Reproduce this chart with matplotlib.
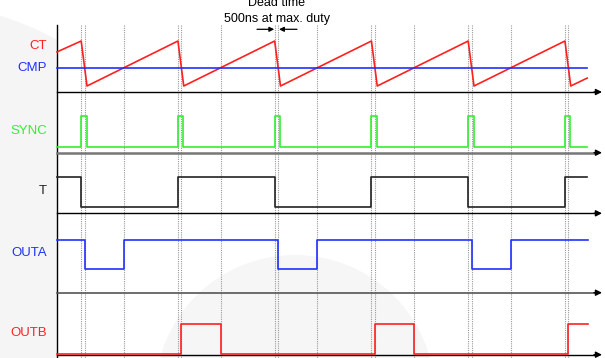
import matplotlib
matplotlib.use("Agg")
import matplotlib.pyplot as plt
from matplotlib.patches import Ellipse, Rectangle

plt.rcParams["font.family"] = ["Liberation Sans", "DejaVu Sans"]

# ---- data (time in switching cycles) ----
peaks = [0.25, 1.25, 2.25, 3.25, 4.25, 5.25]
cmp_cross = [0.69, 1.69, 2.69, 3.69, 4.69]
dead = 0.035

ct_t = [0.0, 0.25, 0.31, 1.25, 1.31, 2.25, 2.31, 3.25, 3.31, 4.25, 4.31, 5.25, 5.31, 5.48]
ct_v = [2.49, 3.0, 0.9, 3.0, 0.9, 3.0, 0.9, 3.0, 0.9, 3.0, 0.9, 3.0, 0.9, 1.27]
cmp_v = 1.74

sync_t = [0.0, 0.25, 0.305, 1.25, 1.305, 2.25, 2.305, 3.25, 3.305, 4.25, 4.305, 5.25, 5.305, 5.48]
sync_lvl = [0, 1, 0, 1, 0, 1, 0, 1, 0, 1, 0, 1, 0, 0]

t_t = [0.0, 0.25, 1.25, 2.25, 3.25, 4.25, 5.25, 5.48]
t_lvl = [1, 0, 1, 0, 1, 0, 1, 1]

outa_t = [0.0, 0.285, 0.69, 2.285, 2.69, 4.285, 4.69, 5.49]
outa_lvl = [1, 0, 1, 0, 1, 0, 1, 1]

outb_t = [0.0, 1.285, 1.69, 3.285, 3.69, 5.285, 5.49]
outb_lvl = [0, 1, 0, 1, 0, 1, 1]

# ---- layout (y in pixels from top) ----
PX = 96.75          # pixels per cycle
X0 = 57             # y-axis position in pixels
W, H = 605, 358


def tx(px):
    return (px - X0) / PX


def ct_y(v):
    return 86 - (v - 0.9) * 45 / 2.1


def dig_y(lvl, low, high):
    return [high if l else low for l in lvl]


fig = plt.figure(figsize=(W / 100, H / 100), dpi=100, facecolor="white")
ax = fig.add_axes([0, 0, 1, 1])
ax.set_xlim(tx(0), tx(W))
ax.set_ylim(H, 0)
ax.axis("off")

# faint background watermark
ax.add_patch(Ellipse((tx(-100), 330), 2 * 330 / PX, 2 * 330, color="#f5f5f5", lw=0, zorder=0))
ax.add_patch(Rectangle((0, 0), tx(W), H, color="white", lw=0, zorder=0.5))
ax.add_patch(Ellipse((tx(295), 395), 2 * 140 / PX, 2 * 140, color="#f6f6f6", lw=0, zorder=0.6))

# timing guide lines
guides = []
for p in peaks:
    guides += [p, p + dead]
guides += cmp_cross
for g in guides:
    ax.plot([g, g], [25, H], color="#999999", lw=0.8, ls=(0, (1, 1)), zorder=1)

# vertical axis
ax.plot([0, 0], [25, H], color="black", lw=1.0, zorder=3)

# time axes with arrows
axes_rows = [(92, "black", 1.0), (152.7, "#777777", 1.8), (213.3, "black", 1.0),
             (292.7, "#555555", 1.2), (354.7, "black", 1.0)]
for y, c, lw in axes_rows:
    ax.plot([0, tx(596)], [y, y], color=c, lw=lw, zorder=3)
    ax.annotate("", xy=(tx(602), y), xytext=(tx(594), y),
                arrowprops=dict(arrowstyle="-|>", color="black", lw=1.0, mutation_scale=9,
                                shrinkA=0, shrinkB=0), zorder=3)

# signals
red, blue, green = "#ff2020", "#2030ff", "#33ee33"
ax.plot(ct_t, [ct_y(v) for v in ct_v], color=red, lw=1.2, zorder=4)
ax.plot([0, ct_t[-1]], [ct_y(cmp_v)] * 2, color=blue, lw=1.2, zorder=4)
ax.step(sync_t, dig_y(sync_lvl, 146.7, 116.3), where="post", color=green, lw=1.2, zorder=4)
ax.step(t_t, dig_y(t_lvl, 207, 177), where="post", color="#222222", lw=1.2, zorder=4)
ax.step(outa_t, dig_y(outa_lvl, 269.3, 239.7), where="post", color=blue, lw=1.2, zorder=4)
ax.step(outb_t, dig_y(outb_lvl, 354, 323.7), where="post", color=red, lw=1.2, zorder=4)

# labels
labels = [("CT", 46, red), ("CMP", 68, blue), ("SYNC", 131, green),
          ("T", 191, "#222222"), ("OUTA", 253, blue), ("OUTB", 333, red)]
for txt, y, c in labels:
    ax.text(tx(47), y, txt, color=c, fontsize=9.5, ha="right", va="center")

# dead time annotation
ax.text(peaks[2] + 0.02, 6.5, "Dead time", fontsize=9, ha="center", va="baseline")
ax.text(peaks[2] + 0.02, 21.7, "500ns at max. duty", fontsize=9, ha="center", va="baseline")
ax.annotate("", xy=(peaks[2] - 0.005, 29.3), xytext=(tx(257), 29.3),
            arrowprops=dict(arrowstyle="-|>", color="black", lw=0.9, mutation_scale=7,
                            shrinkA=0, shrinkB=0))
ax.annotate("", xy=(peaks[2] + dead + 0.01, 29.3), xytext=(tx(297), 29.3),
            arrowprops=dict(arrowstyle="-|>", color="black", lw=0.9, mutation_scale=7,
                            shrinkA=0, shrinkB=0))

fig.savefig("out.png", dpi=100, facecolor="white")
